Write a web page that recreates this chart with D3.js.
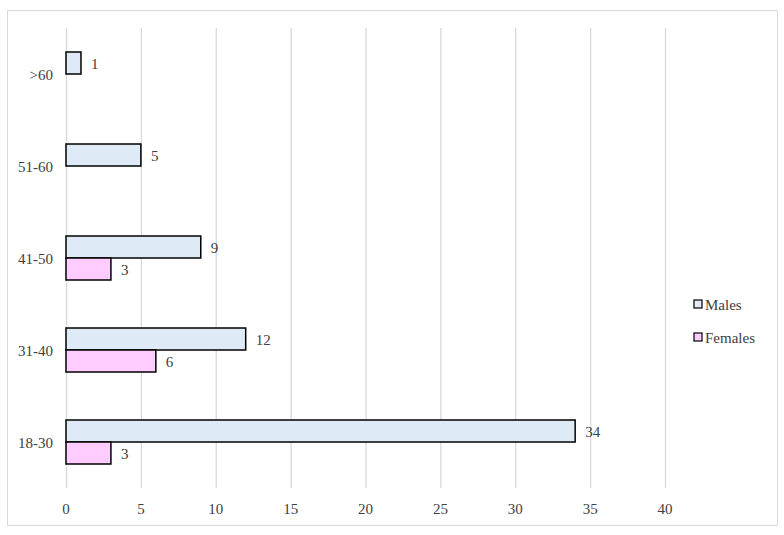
<!DOCTYPE html>
<html>
<head>
<meta charset="utf-8">
<script src="https://cdn.jsdelivr.net/npm/d3@7"></script>
<style>
  body { margin: 0; background: #fff; }
  text { font-family: "Liberation Serif", "Times New Roman", serif; fill: #404040; }
</style>
</head>
<body>
<div id="chart"></div>
<script>
// data
const ageGroups = ["18-30", "31-40", "41-50", "51-60", ">60"];
const males = [34, 12, 9, 5, 1];
const females = [3, 6, 3, 0, 0];
const xTicks = [0, 5, 10, 15, 20, 25, 30, 35, 40];
const seriesNames = ["Males", "Females"];
const seriesColors = ["#deebf7", "#ffccff"];

const width = 784;
const height = 535;
const margin = { top: 28, right: 119, bottom: 47, left: 66 };

const svg = d3.select("#chart")
  .append("svg")
  .attr("width", width)
  .attr("height", height);

// outer frame
svg.append("rect")
  .attr("x", 7.5).attr("y", 10.5)
  .attr("width", 770).attr("height", 515)
  .attr("fill", "#fff")
  .attr("stroke", "#d9d9d9");

const x = d3.scaleLinear()
  .domain([0, 40])
  .range([margin.left, width - margin.right]);

// bottom category at the bottom
const y = d3.scaleBand()
  .domain(ageGroups.slice().reverse())
  .range([margin.top, height - margin.bottom]);

const barH = 22;

// gridlines
svg.append("g")
  .selectAll("line")
  .data(xTicks)
  .join("line")
  .attr("x1", d => x(d) + 0.5).attr("x2", d => x(d) + 0.5)
  .attr("y1", margin.top).attr("y2", height - margin.bottom)
  .attr("stroke", "#d9d9d9")
  .attr("stroke-width", 1.3);

// x tick labels
svg.append("g")
  .selectAll("text")
  .data(xTicks)
  .join("text")
  .attr("x", d => x(d))
  .attr("y", 514)
  .attr("text-anchor", "middle")
  .attr("font-size", 15)
  .text(d => d);

// category labels
svg.append("g")
  .selectAll("text")
  .data(ageGroups)
  .join("text")
  .attr("x", 53)
  .attr("y", d => y(d) + y.bandwidth() / 2 + 6)
  .attr("text-anchor", "end")
  .attr("font-size", 15)
  .text(d => d);

const series = [males, females];

series.forEach((vals, si) => {
  const rows = ageGroups.map((g, i) => ({ g: g, v: vals[i] }));
  const grp = svg.append("g");

  grp.selectAll("rect")
    .data(rows.filter(d => d.v > 0))
    .join("rect")
    .attr("x", x(0))
    .attr("y", d => y(d.g) + y.bandwidth() / 2 - barH + si * barH)
    .attr("width", d => x(d.v) - x(0))
    .attr("height", barH)
    .attr("fill", seriesColors[si])
    .attr("stroke", "#000")
    .attr("stroke-width", 1.5);

  grp.selectAll("text")
    .data(rows.filter(d => d.v > 0))
    .join("text")
    .attr("x", d => x(d.v) + 10)
    .attr("y", d => y(d.g) + y.bandwidth() / 2 - barH / 2 + si * barH + 6)
    .attr("font-size", 15)
    .text(d => d.v);
});

// legend
const legend = svg.append("g")
  .selectAll("g")
  .data(seriesNames)
  .join("g")
  .attr("transform", (d, i) => `translate(694, ${300 + i * 33})`);

legend.append("rect")
  .attr("width", 8).attr("height", 8)
  .attr("fill", (d, i) => seriesColors[i])
  .attr("stroke", "#000")
  .attr("stroke-width", 1.2);

legend.append("text")
  .attr("x", 11)
  .attr("y", 10)
  .attr("font-size", 15)
  .text(d => d);
</script>
</body>
</html>
